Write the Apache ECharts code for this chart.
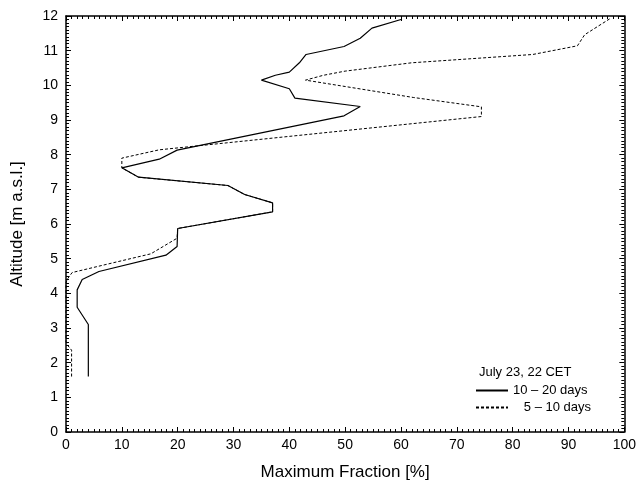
<!DOCTYPE html>
<html>
<head>
<meta charset="utf-8">
<script src="https://cdn.jsdelivr.net/npm/echarts@6/dist/echarts.min.js"></script>
<style>
  html, body { margin: 0; padding: 0; background: #fff; }
  #chart { width: 639px; height: 486px; }
</style>
</head>
<body>
<div id="chart"></div>
<script>
// 10-20 days (solid)
const fractionSolid = [4, 4, 2, 2, 2.9, 5.9, 17.9, 19.9, 20, 37, 37, 32, 29, 13, 10, 16.7, 19.9, 49.8, 52.7, 41, 40, 35, 37.5, 40, 41.8, 43, 49.8, 52.7, 54.8, 60];
const altitudeSolid = [1.6, 3.1, 3.6, 4.1, 4.4, 4.63, 5.1, 5.35, 5.87, 6.35, 6.61, 6.85, 7.11, 7.35, 7.62, 7.87, 8.13, 9.12, 9.39, 9.63, 9.9, 10.15, 10.29, 10.38, 10.65, 10.89, 11.12, 11.36, 11.65, 11.9];
// 5-10 days (dashed)
const fractionDashed = [1, 1, 0.3, 0, 0, 0.2, 1.1, 15.2, 19.9, 20, 37, 37, 32, 29, 13, 10, 10, 16.7, 74.4, 74.4, 62.2, 42.9, 46.1, 50, 61.9, 83.6, 91.6, 92.9, 97.5];
const altitudeDashed = [1.6, 2.36, 2.5, 2.6, 4.3, 4.4, 4.6, 5.14, 5.59, 5.87, 6.35, 6.61, 6.85, 7.11, 7.35, 7.62, 7.9, 8.14, 9.1, 9.38, 9.65, 10.15, 10.29, 10.41, 10.65, 10.89, 11.14, 11.46, 11.93];

const seriesNames = ['10 – 20 days', '\u2007 5 – 10 days'];
const legendTitle = 'July 23, 22 CET';

const font = 'Liberation Sans, Arial, sans-serif';

function pairs(xs, ys) {
  return xs.map((x, i) => [x, ys[i]]);
}

const tickStyle = { show: true, inside: true, length: 5, lineStyle: { color: '#000', width: 1 } };
const minorStyle = { show: true, splitNumber: 10, length: 3, lineStyle: { color: '#000', width: 1 } };
const lineAxis = { show: true, onZero: false, lineStyle: { color: '#000', width: 1.5 } };

const chart = echarts.init(document.getElementById('chart'));
chart.setOption({
  animation: false,
  backgroundColor: '#fff',
  color: ['#000', '#000'],
  title: {
    text: legendTitle,
    left: 474, top: 361,
    textStyle: { fontFamily: font, fontSize: 13, fontWeight: 'normal', color: '#000' }
  },
  legend: {
    orient: 'vertical',
    left: 470, top: 379,
    itemWidth: 32, itemHeight: 10, itemGap: 4,
    itemStyle: { opacity: 0 },
    textStyle: { fontFamily: font, fontSize: 13, color: '#000' },
    data: seriesNames
  },
  grid: { left: 66, right: 13, top: 16, bottom: 51, containLabel: false },
  xAxis: [
    {
      type: 'value', min: 0, max: 100, interval: 10,
      name: 'Maximum Fraction [%]', nameLocation: 'middle', nameGap: 32,
      nameTextStyle: { fontFamily: font, fontSize: 17, color: '#000' },
      axisLine: lineAxis, axisTick: tickStyle, minorTick: minorStyle,
      axisLabel: { fontFamily: font, fontSize: 14, color: '#000', margin: 6 },
      splitLine: { show: false }
    },
    {
      type: 'value', min: 0, max: 100, interval: 10, position: 'top',
      axisLine: lineAxis, axisTick: tickStyle, minorTick: minorStyle,
      axisLabel: { show: false }, splitLine: { show: false }
    }
  ],
  yAxis: [
    {
      type: 'value', min: 0, max: 12, interval: 1,
      name: 'Altitude [m a.s.l.]', nameLocation: 'middle', nameGap: 40, nameRotate: 90,
      nameTextStyle: { fontFamily: font, fontSize: 17, color: '#000' },
      axisLine: lineAxis, axisTick: tickStyle, minorTick: minorStyle,
      axisLabel: { fontFamily: font, fontSize: 14, color: '#000', margin: 8 },
      splitLine: { show: false }
    },
    {
      type: 'value', min: 0, max: 12, interval: 1, position: 'right',
      axisLine: lineAxis, axisTick: tickStyle, minorTick: minorStyle,
      axisLabel: { show: false }, splitLine: { show: false }
    }
  ],
  series: [
    {
      name: seriesNames[0], type: 'line', xAxisIndex: 0, yAxisIndex: 0,
      data: pairs(fractionSolid, altitudeSolid),
      symbol: 'none', z: 3,
      itemStyle: { color: '#000' },
      lineStyle: { color: '#000', width: 1.2, type: 'solid' }
    },
    {
      name: seriesNames[1], type: 'line', xAxisIndex: 0, yAxisIndex: 0,
      data: pairs(fractionDashed, altitudeDashed),
      symbol: 'none', z: 2,
      itemStyle: { color: '#000' },
      lineStyle: { color: '#000', width: 1, type: [3, 2] }
    }
  ]
});
</script>
</body>
</html>
